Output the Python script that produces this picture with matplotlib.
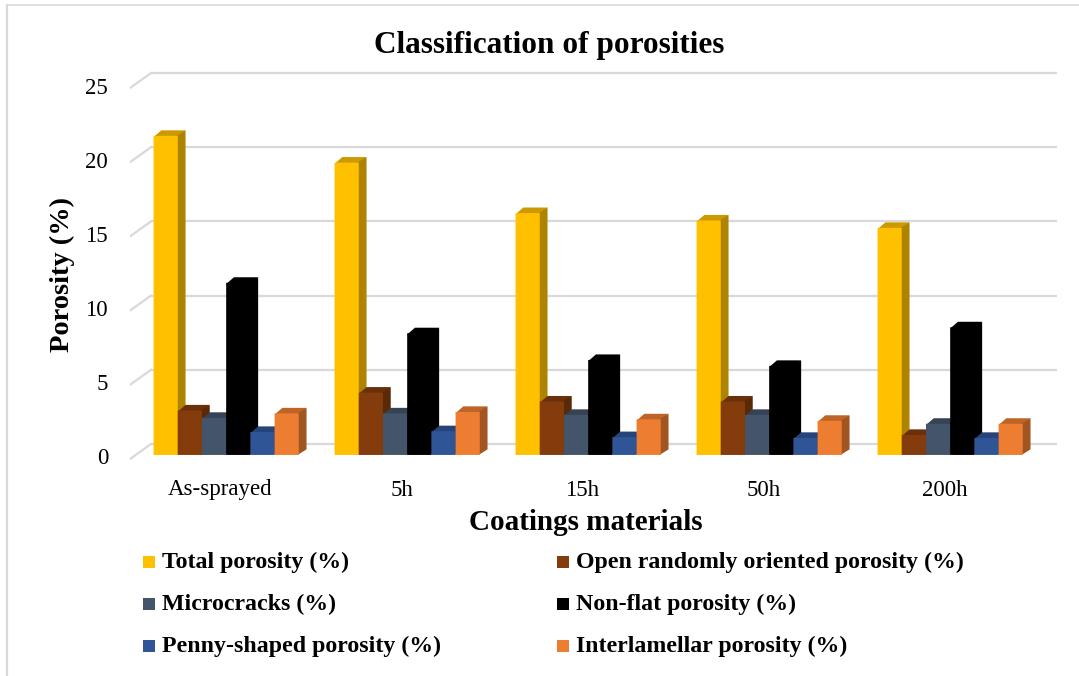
import matplotlib
matplotlib.use("Agg")
import matplotlib.pyplot as plt
from matplotlib.patches import Polygon, Rectangle
from matplotlib.lines import Line2D
import matplotlib.colors as mcolors

# ---- data ----
categories = ["As-sprayed", "5h", "15h", "50h", "200h"]
series_names = [
    "Total porosity (%)",
    "Open randomly oriented porosity (%)",
    "Microcracks (%)",
    "Non-flat porosity (%)",
    "Penny-shaped porosity (%)",
    "Interlamellar porosity (%)",
]
total_porosity = [21.5, 19.7, 16.3, 15.8, 15.3]
open_random = [3.0, 4.2, 3.6, 3.6, 1.35]
microcracks = [2.5, 2.8, 2.7, 2.7, 2.1]
non_flat = [11.6, 8.2, 6.4, 6.0, 8.6]
penny_shaped = [1.55, 1.6, 1.2, 1.15, 1.15]
interlamellar = [2.8, 2.9, 2.4, 2.3, 2.1]
y_ticks = [0, 5, 10, 15, 20, 25]

series_values = [total_porosity, open_random, microcracks,
                 non_flat, penny_shaped, interlamellar]
colors = ["#FFC000", "#843C0C", "#44546A", "#000000", "#2F5597", "#ED7D31"]

# ---- figure / axes geometry (pixels) ----
W, H = 1079, 676
fig = plt.figure(figsize=(W / 100, H / 100), dpi=100)
serif = ["Liberation Serif", "DejaVu Serif"]

px_cat = 181.0        # pixels per category
px_val = 14.84        # pixels per unit of porosity
y0_px = 459.0         # front-plane zero line
ax_left_px, ax_right_px = 130.0, 1057.0
ax_top_px, ax_bot_px = 70.0, 465.0

ax = fig.add_axes([ax_left_px / W, 1 - ax_bot_px / H,
                   (ax_right_px - ax_left_px) / W, (ax_bot_px - ax_top_px) / H])
ax.set_xlim(-0.5, -0.5 + (ax_right_px - ax_left_px) / px_cat)
ax.set_ylim(-(ax_bot_px - y0_px) / px_val, (y0_px - ax_top_px) / px_val)
ax.axis("off")

# oblique depth of the plot box (back wall offset) in data units
depth_dx = 21.0 / px_cat
depth_dy = 15.0 / px_val

# back wall gridlines and the diagonal floor ticks
x_right = ax.get_xlim()[1]
for v in y_ticks:
    ax.plot([-0.5 + depth_dx, x_right], [v + depth_dy, v + depth_dy],
            color="#D9D9D9", lw=1.6, zorder=1, solid_capstyle="butt")
    ax.plot([-0.5, -0.5 + depth_dx], [v, v + depth_dy],
            color="#D9D9D9", lw=1.6, zorder=1)
    ax.text(-0.5 - 22 / px_cat, v, str(v), ha="right", va="center",
            fontsize=16.5, family=serif, color="#000000")

# ---- bars drawn as oblique boxes ----
bar_w = 24.2 / px_cat
n_series = len(series_values)
front_frac = 0.27          # front face position inside the box depth
bar_depth = 0.37           # bar depth as fraction of box depth
fx, fy = front_frac * depth_dx, front_frac * depth_dy
bdx, bdy = bar_depth * depth_dx, bar_depth * depth_dy
ex, ey = 1.2 / px_cat, 1.2 / px_val   # overlap under the front face, avoids seams


def shade(c, f):
    r, g, b = mcolors.to_rgb(c)
    return (r * f, g * f, b * f)


z = 2
for i in range(len(categories)):
    for j, vals in enumerate(series_values):
        v = vals[i]
        col = colors[j]
        left = i - n_series * bar_w / 2 + j * bar_w + fx
        right = left + bar_w
        base = fy
        top = fy + v
        # front face
        bars = ax.bar(left, v, width=bar_w, bottom=base, align="edge",
                      color=col, edgecolor="none", zorder=z + 0.2)
        for b in bars:
            b.set_snap(False)
        # top face
        ctop = shade(col, 0.8)
        ax.add_patch(Polygon([(left, top - ey), (right, top - ey),
                              (right + bdx, top + bdy), (left + bdx, top + bdy)],
                             closed=True, facecolor=ctop, edgecolor="none",
                             zorder=z, snap=False))
        # right side face
        cside = shade(col, 0.68)
        ax.add_patch(Polygon([(right - ex, base), (right + bdx, base + bdy),
                              (right + bdx, top + bdy), (right - ex, top)],
                             closed=True, facecolor=cside, edgecolor="none",
                             zorder=z + 0.1, snap=False))
        z += 1

# category labels
for i, c in enumerate(categories):
    ax.text(i, -(490 - y0_px) / px_val, c, ha="center", va="center",
            fontsize=16.5, family=serif, color="#000000", clip_on=False)

# ---- titles ----
fig.text(549 / W, 1 - 45 / H, "Classification of porosities", ha="center",
         va="center", fontsize=22.5, fontweight="bold", family=serif)
fig.text(586 / W, 1 - 523 / H, "Coatings materials", ha="center",
         va="center", fontsize=21, fontweight="bold", family=serif)
fig.text(62 / W, 1 - 274 / H, "Porosity (%)", ha="center", va="center",
         rotation=90, fontsize=20.5, fontweight="bold", family=serif)

# ---- legend (two columns, three rows) ----
col_x = [143, 557]
row_y = [562, 604, 646]
mk = 12
for k, name in enumerate(series_names):
    r, cidx = k // 2, k % 2
    mx, my = col_x[cidx], row_y[r]
    fig.patches.append(Rectangle((mx / W, 1 - (my + mk / 2) / H), mk / W, mk / H,
                                 transform=fig.transFigure, facecolor=colors[k],
                                 edgecolor="none"))
    fig.text((mx + mk + 7) / W, 1 - my / H, name, ha="left", va="center",
             fontsize=17.2, fontweight="bold", family=serif)

# ---- light chart border ----
fig.add_artist(Line2D([7 / W, 7 / W], [0, 1 - 5 / H], transform=fig.transFigure,
                      color="#D9D9D9", lw=1.6))
fig.add_artist(Line2D([7 / W, 1], [1 - 5 / H, 1 - 5 / H], transform=fig.transFigure,
                      color="#D9D9D9", lw=1.2))

fig.savefig("out.png", dpi=100, facecolor="white")
